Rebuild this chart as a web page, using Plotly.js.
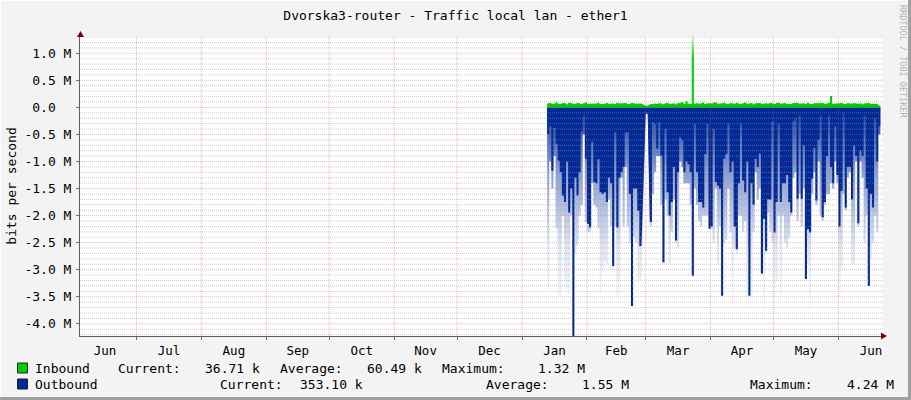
<!DOCTYPE html>
<html>
<head>
<meta charset="utf-8">
<script src="https://cdn.plot.ly/plotly-3.0.1.min.js"></script>
<style>
html,body{margin:0;padding:0;background:#f3f3f3;}
#chart{width:911px;height:400px;}
</style>
</head>
<body>
<div id="chart"></div>
<script>
// ---------------- DATA ----------------
const chartTitle = 'Dvorska3-router - Traffic local lan - ether1';
const yAxisTitle = 'bits per second';
const watermark = 'RRDTOOL / TOBI OETIKER';
const firstDay = '2015-01-13';   // one value per day from here

// Inbound, daily (kbit/s)
const inboundK = [
  72,85,64,78,90,70,66,81,75,60,
  88,79,70,68,84,73,62,77,91,69,
  74,80,66,71,86,63,75,70,82,67,
  79,72,65,88,74,69,77,83,64,70,
  85,73,68,76,71,null,null,30,null,58,
  66,74,62,80,69,57,73,85,64,71,
  78,60,76,82,100,68,120,74,63,1320,
  70,81,66,75,90,62,79,68,73,84,
  95,70,66,77,88,71,64,80,75,69,
  86,72,63,78,92,67,74,81,60,76,
  70,83,65,72,79,68,87,74,61,77,
  90,69,73,82,66,75,63,80,71,85,
  68,74,78,62,88,70,65,79,73,84,
  72,81,67,74,84,210,69,72,64,77,
  86,70,63,80,75,68,83,71,66,78,
  60,74,69,81,66,73,62,70,37
];

// Outbound average, daily (Mbit/s, drawn below zero)
const outboundAvgM = [
  -0.49,-0.35,-1.17,-0.38,-0.67,-0.98,-1.2,-1.63,-1.75,-1.0,
  -1.94,-1.5,-4.24,-1.3,-1.63,-1.2,-0.45,-0.15,-0.95,-2.15,
  -2.22,-0.64,-1.38,-1.4,-0.96,-1.57,-1.6,-1.57,-1.75,-1.3,
  -1.4,-2.93,-0.46,-2.22,-1.3,-1.2,-1.1,-0.46,-0.46,-1.6,
  -3.67,-1.5,-1.5,-1.91,-2.56,null,null,-0.09,null,-2.12,
  -0.27,-0.3,-0.76,-0.27,-0.89,-2.86,-0.4,-1.57,-2.0,-1.75,
  -1.1,-2.46,-1.2,-0.55,-0.6,-1.2,-1.0,-1.05,-1.2,-3.11,
  -0.3,-1.2,-1.75,-1.75,-1.85,-0.86,-0.3,-2.24,-2.2,-0.4,
  -1.38,-1.45,-1.5,-3.48,-0.95,-0.86,-0.3,-1.2,-1.0,-2.2,
  -2.62,-1.4,-0.3,-1.35,-1.57,-1.0,-3.48,-1.4,-1.8,-0.95,
  -1.1,-0.85,-3.07,-2.06,-2.65,-1.7,-1.7,-0.25,-2.31,-1.75,
  -0.3,-1.75,-1.4,-1.4,-1.25,-1.75,-1.94,-0.25,-0.2,-1.69,
  -0.15,-1.69,-0.7,-3.17,-2.25,-2.31,-1.32,-0.75,-1.72,-0.6,
  -0.15,-2.03,-1.75,-0.9,-0.15,-1.1,-1.4,-0.35,-1.25,-2.2,
  -1.54,-0.1,-1.85,-1.1,-1.1,-1.7,-0.7,-0.9,-2.14,-0.8,
  -0.9,-0.15,-1.5,-3.3,-1.6,-1.85,-0.2,-1.0,-0.35
];

// Outbound peak, daily (Mbit/s, drawn below zero)
const outboundMaxM = [
  -3.36,-1.0,-1.5,-0.9,-2.24,-3.48,-3.5,-2.0,-3.23,-3.4,
  -3.45,-2.0,-4.24,-2.7,-2.56,-2.0,-1.8,-0.5,-2.12,-2.3,
  -2.3,-1.4,-1.8,-1.85,-2.24,-3.45,-3.0,-2.85,-2.9,-1.7,
  -2.2,-3.0,-2.2,-3.48,-3.45,-1.3,-2.2,-1.1,-2.2,-2.5,
  -3.7,-2.4,-2.5,-3.2,-3.2,null,null,-0.12,null,-2.2,
  -1.6,-1.2,-0.9,-0.9,-1.8,-2.9,-1.7,-2.0,-2.9,-2.3,
  -1.7,-2.5,-2.6,-1.0,-1.1,-1.4,-1.4,-1.4,-1.8,-3.15,
  -1.5,-1.8,-2.1,-2.2,-2.0,-2.0,-2.0,-2.25,-2.25,-2.5,
  -1.5,-2.9,-2.2,-3.5,-2.5,-2.45,-1.5,-2.3,-3.6,-2.6,
  -2.7,-2.0,-2.0,-2.3,-2.1,-3.6,-3.5,-3.7,-2.3,-1.2,
  -1.7,-1.5,-3.1,-3.8,-2.7,-1.95,-2.3,-2.5,-4.0,-3.2,
  -2.0,-3.48,-2.0,-2.5,-2.6,-2.4,-2.0,-1.3,-1.2,-2.1,
  -1.6,-2.2,-1.5,-3.2,-2.9,-3.7,-1.6,-1.2,-1.8,-1.0,
  -2.0,-2.1,-1.8,-1.6,-1.6,-1.4,-1.5,-1.0,-1.4,-3.5,
  -2.98,-1.6,-1.9,-1.3,-1.2,-2.9,-2.9,-1.0,-2.2,-1.0,
  -1.3,-2.5,-2.0,-3.3,-2.8,-2.5,-2.0,-2.3,-0.5
];

// Axis ticks
const yTickValsM = [1.0,0.5,0.0,-0.5,-1.0,-1.5,-2.0,-2.5,-3.0,-3.5,-4.0];
const yTickText  = ['1.0 M','0.5 M','0.0\u00a0\u00a0','-0.5 M','-1.0 M','-1.5 M','-2.0 M','-2.5 M','-3.0 M','-3.5 M','-4.0 M'];
const xRange = ['2014-06-04 01:40','2015-06-22 06:30'];
const yRangeM = [-4.225, 1.32];

// Legend
const seriesNames = ['Inbound','Outbound'];
const seriesColors = ['#00cc00','#002a97'];
const statLabels = ['Current:','Average:','Maximum:'];
const inboundStats = ['36.71 k','60.49 k','1.32 M'];
const outboundStats = ['353.10 k','1.55 M','4.24 M'];

// ---------------- LAYOUT HELPERS ----------------
const W = 911, H = 400, ML = 80, MR = 28, MT = 36, MB = 64;
const PW = W - ML - MR, PH = H - MT - MB;
const px = v => (v - ML) / PW;
const py = v => (H - MB - v) / PH;
const FONT = 'DejaVu Sans Mono';

const t0 = Date.parse(firstDay + 'T00:00:00Z');
const dayStr = i => new Date(t0 + i * 864e5).toISOString().slice(0, 10);

function stepSeries(vals, scale) {
  const xs = [], ys = [];
  vals.forEach((v, i) => {
    if (v === null) { xs.push(dayStr(i)); ys.push(null); }
    else { xs.push(dayStr(i), dayStr(i + 1)); ys.push(v * scale, v * scale); }
  });
  return {xs, ys};
}

const inS = stepSeries(inboundK, 1e3);
const avgS = stepSeries(outboundAvgM, 1e6);
const maxS = stepSeries(outboundMaxM, 1e6);

const traces = [
  {
    x: maxS.xs, y: maxS.ys, type: 'scatter', mode: 'lines', line: {width: 0, color: seriesColors[1]},
    fill: 'tozeroy', fillcolor: 'rgba(0,42,151,0.35)',
    fillgradient: {type: 'vertical', start: -4.0e6, stop: 0,
      colorscale: [[0, 'rgba(0,42,151,0.0)'], [0.35, 'rgba(0,42,151,0.12)'], [0.7, 'rgba(0,42,151,0.45)'], [1, 'rgba(0,42,151,0.9)']]},
    hoverinfo: 'skip', name: 'Outbound max'
  },
  {
    x: avgS.xs, y: avgS.ys, type: 'scatter', mode: 'lines', line: {width: 0, color: seriesColors[1]},
    fill: 'tozeroy', fillcolor: seriesColors[1], name: seriesNames[1]
  },
  {
    x: inS.xs, y: inS.ys, type: 'scatter', mode: 'lines', line: {width: 0, color: seriesColors[0]},
    fill: 'tozeroy', fillcolor: seriesColors[0],
    fillgradient: {type: 'vertical', start: 0, stop: yRangeM[1] * 1e6,
      colorscale: [[0, '#00cc00'], [0.68, '#00cc00'], [1, 'rgba(0,204,0,0.15)']]},
    name: seriesNames[0]
  }
];

// ---------------- GRID (drawn above the areas, like rrdtool) ----------------
const shapes = [];
const minorColor = 'rgba(160,160,160,0.5)';
const majorColor = 'rgba(235,70,70,0.38)';
for (let k = Math.ceil(yRangeM[0] * 10); k <= Math.floor(yRangeM[1] * 10); k++) {
  if (k % 5 === 0) continue;
  shapes.push({type: 'line', xref: 'paper', x0: 0, x1: 1, yref: 'y', y0: k * 1e5, y1: k * 1e5,
    line: {color: minorColor, width: 1, dash: '1px,1px'}, layer: 'above'});
}
yTickValsM.forEach(v => shapes.push({type: 'line', xref: 'paper', x0: 0, x1: 1, yref: 'y', y0: v * 1e6, y1: v * 1e6,
  line: {color: majorColor, width: 1, dash: '1px,1px'}, layer: 'above'}));
for (let m = 6; m <= 17; m++) {
  const d = new Date(Date.UTC(2014, m, 1)).toISOString().slice(0, 10);
  shapes.push({type: 'line', xref: 'x', x0: d, x1: d, yref: 'paper', y0: 0, y1: 1,
    line: {color: majorColor, width: 1, dash: '1px,1px'}, layer: 'above'});
}
// axis arrows
shapes.push({type: 'path', xref: 'paper', yref: 'paper', layer: 'above',
  path: `M ${px(77)} ${py(37)} L ${px(80.5)} ${py(31)} L ${px(84)} ${py(37)} Z`, fillcolor: '#7f0000', line: {width: 0}});
shapes.push({type: 'path', xref: 'paper', yref: 'paper', layer: 'above',
  path: `M ${px(881)} ${py(332.5)} L ${px(887)} ${py(336)} L ${px(881)} ${py(339.5)} Z`, fillcolor: '#7f0000', line: {width: 0}});
// frame of the image
shapes.push({type: 'line', xref: 'paper', yref: 'paper', x0: px(0), x1: px(911), y0: py(0.5), y1: py(0.5), line: {color: '#ffffff', width: 1}});
shapes.push({type: 'line', xref: 'paper', yref: 'paper', x0: px(0.5), x1: px(0.5), y0: py(0), y1: py(400), line: {color: '#ffffff', width: 1}});
shapes.push({type: 'rect', xref: 'paper', yref: 'paper', x0: px(908), x1: px(911), y0: py(0), y1: py(400), fillcolor: '#a0a0a0', line: {width: 0}});
shapes.push({type: 'rect', xref: 'paper', yref: 'paper', x0: px(0), x1: px(911), y0: py(397), y1: py(400), fillcolor: '#a0a0a0', line: {width: 0}});

// legend squares
const legendRowsY = [368, 384];
legendRowsY.forEach((yc, r) => shapes.push({type: 'rect', xref: 'paper', yref: 'paper',
  x0: px(17.5), x1: px(27.5), y0: py(yc - 5), y1: py(yc + 5), fillcolor: seriesColors[r], line: {color: '#222', width: 1}}));

// ---------------- ANNOTATIONS ----------------
const annotations = [];
function txt(s, xl, yc, opts) {
  annotations.push(Object.assign({text: s, xref: 'paper', yref: 'paper', x: px(xl), y: py(yc),
    xanchor: 'left', yanchor: 'middle', showarrow: false, borderpad: 0,
    font: {family: FONT, size: 13, color: '#000'}}, opts || {}));
}
const legendColsX = [
  [34, 116.7, 204, 279.3, 366, 441, 536.5],
  [34, 219, 299.3, 485, 580.7, 749, 846]
];
const rowsText = [
  [seriesNames[0], statLabels[0], inboundStats[0], statLabels[1], inboundStats[1], statLabels[2], inboundStats[2]],
  [seriesNames[1], statLabels[0], outboundStats[0], statLabels[1], outboundStats[1], statLabels[2], outboundStats[2]]
];
rowsText.forEach((row, r) => row.forEach((s, c) => txt(s.replace(/ /g, '\u00a0'), legendColsX[r][c], legendRowsY[r])));
annotations.push({text: watermark, xref: 'paper', yref: 'paper', x: px(903), y: py(61), xanchor: 'center', yanchor: 'middle',
  textangle: 90, showarrow: false, font: {family: FONT, size: 8.5, color: '#b4b4b4'}});

const layout = {
  width: W, height: H,
  margin: {l: ML, r: MR, t: MT, b: MB, pad: 0},
  paper_bgcolor: '#f3f3f3', plot_bgcolor: '#ffffff',
  showlegend: false,
  title: {text: chartTitle, x: 0.5, xanchor: 'center', xref: 'container', y: 1 - 15 / H, yanchor: 'middle', yref: 'container',
    font: {family: FONT, size: 13, color: '#000'}},
  xaxis: {
    type: 'date', range: xRange, tick0: '2014-06-01', dtick: 'M1', tickformat: '%b', ticklabelmode: 'period',
    ticks: 'outside', ticklen: 3, tickcolor: '#707070', showgrid: false, zeroline: false,
    showline: true, linecolor: '#606060', linewidth: 1,
    tickfont: {family: FONT, size: 12.5, color: '#000'}, fixedrange: true
  },
  yaxis: {
    range: yRangeM.map(v => v * 1e6), tickmode: 'array', tickvals: yTickValsM.map(v => v * 1e6), ticktext: yTickText,
    ticks: 'outside', ticklen: 3, tickcolor: '#707070', showgrid: false, zeroline: false,
    showline: true, linecolor: '#606060', linewidth: 1, ticklabelstandoff: 2,
    tickfont: {family: FONT, size: 13, color: '#000'},
    title: {text: yAxisTitle, font: {family: FONT, size: 13, color: '#000'}, standoff: 4}, fixedrange: true
  },
  shapes: shapes,
  annotations: annotations
};

Plotly.newPlot('chart', traces, layout, {displayModeBar: false, staticPlot: true});
</script>
</body>
</html>
